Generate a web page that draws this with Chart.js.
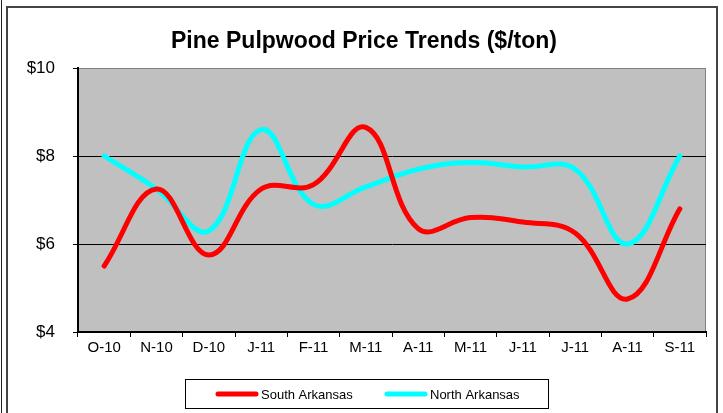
<!DOCTYPE html>
<html>
<head>
<meta charset="utf-8">
<script src="https://cdn.jsdelivr.net/npm/chart.js@4"></script>
<style>
    html, body { margin: 0; padding: 0; background: #fff; }
    #wrap { width: 723px; height: 413px; position: relative; }
</style>
</head>
<body>
<div id="wrap"><canvas id="priceChart" width="723" height="413"></canvas></div>
<script>
var chartTitle = 'Pine Pulpwood Price Trends ($/ton)';
var categories = ['O-10', 'N-10', 'D-10', 'J-11', 'F-11', 'M-11', 'A-11', 'M-11', 'J-11', 'J-11', 'A-11', 'S-11'];
var southArkansas = [5.5, 7.25, 5.75, 7.25, 7.35, 8.65, 6.35, 6.6, 6.5, 6.25, 4.75, 6.8];
var northArkansas = [8.0, 7.25, 6.3, 8.6, 6.9, 7.3, 7.7, 7.85, 7.75, 7.7, 6.0, 8.0];
var yTicks = [4, 6, 8, 10];

var fontFamily = '"Liberation Sans", Arial, sans-serif';

// plot background, gray plot border, page frame, title and the boxed legend
var chartDecor = {
    id: 'chartDecor',
    beforeDraw: function (chart) {
        var ctx = chart.ctx;
        var a = chart.chartArea;
        ctx.save();
        ctx.fillStyle = '#c0c0c0';
        ctx.fillRect(a.left, a.top, a.right - a.left, a.bottom - a.top);
        ctx.strokeStyle = '#808080';
        ctx.lineWidth = 1;
        ctx.beginPath();
        ctx.moveTo(a.left, a.top + 0.5);
        ctx.lineTo(a.right - 0.5, a.top + 0.5);
        ctx.lineTo(a.right - 0.5, a.bottom);
        ctx.stroke();

        // outer frame
        ctx.strokeStyle = '#222';
        ctx.beginPath();
        ctx.moveTo(1.5, 0);
        ctx.lineTo(1.5, 413);
        ctx.stroke();
        ctx.strokeStyle = '#444';
        ctx.lineWidth = 2;
        ctx.beginPath();
        ctx.moveTo(7, 413);
        ctx.lineTo(7, 7);
        ctx.lineTo(717, 7);
        ctx.lineTo(717, 413);
        ctx.stroke();

        // title
        ctx.fillStyle = '#000';
        ctx.font = 'bold 23px ' + fontFamily;
        ctx.textAlign = 'center';
        ctx.textBaseline = 'middle';
        ctx.fillText(chartTitle, 364, 42);
        ctx.restore();
    },
    afterDraw: function (chart) {
        var ctx = chart.ctx;
        var items = [{x: 218, textX: 261}, {x: 387, textX: 430}];
        var midY = 394;
        ctx.save();
        ctx.strokeStyle = '#000';
        ctx.lineWidth = 1;
        ctx.strokeRect(185.5, 379.5, 363, 29);
        ctx.font = '13px ' + fontFamily;
        ctx.textBaseline = 'middle';
        ctx.fillStyle = '#000';
        chart.data.datasets.forEach(function (ds, i) {
            ctx.strokeStyle = ds.borderColor;
            ctx.lineWidth = ds.borderWidth;
            ctx.lineCap = 'round';
            ctx.beginPath();
            ctx.moveTo(items[i].x, midY);
            ctx.lineTo(items[i].x + 38, midY);
            ctx.stroke();
            ctx.fillText(ds.label, items[i].textX, midY + 1);
        });
        ctx.restore();
    }
};

new Chart(document.getElementById('priceChart'), {
    type: 'line',
    data: {
        labels: categories,
        datasets: [{
            label: 'South Arkansas',
            data: southArkansas,
            borderColor: '#ff0000',
            borderWidth: 5,
            borderCapStyle: 'round',
            pointRadius: 0,
            tension: 0.4,
            fill: false
        }, {
            label: 'North Arkansas',
            data: northArkansas,
            borderColor: '#00ffff',
            borderWidth: 5,
            borderCapStyle: 'round',
            pointRadius: 0,
            tension: 0.4,
            fill: false
        }]
    },
    options: {
        responsive: false,
        animation: false,
        devicePixelRatio: 1,
        layout: {
            padding: {left: 0, right: 17, top: 68, bottom: 51}
        },
        scales: {
            x: {
                offset: true,
                grid: {
                    offset: true,
                    drawOnChartArea: false,
                    tickLength: 5,
                    tickColor: '#000'
                },
                border: {color: '#000', width: 2},
                ticks: {
                    color: '#000',
                    font: {family: fontFamily, size: 15},
                    padding: 2,
                    maxRotation: 0,
                    autoSkip: false
                },
                afterFit: function (scale) {
                    scale.height = 30;
                }
            },
            y: {
                min: 4,
                max: 10,
                afterBuildTicks: function (scale) {
                    scale.ticks = yTicks.map(function (v) { return {value: v}; });
                },
                grid: {
                    color: function (c) {
                        return c.tick && c.tick.value === 10 ? '#808080' : '#000';
                    },
                    tickColor: '#000',
                    tickLength: 5,
                    lineWidth: 1
                },
                border: {color: '#000', width: 2},
                ticks: {
                    color: '#000',
                    font: {family: fontFamily, size: 17},
                    padding: 18,
                    callback: function (v) { return '$' + v; }
                },
                afterFit: function (scale) {
                    scale.width = 78;
                }
            }
        },
        plugins: {
            legend: {display: false},
            tooltip: {enabled: false},
            title: {display: false}
        }
    },
    plugins: [chartDecor]
});
</script>
</body>
</html>
